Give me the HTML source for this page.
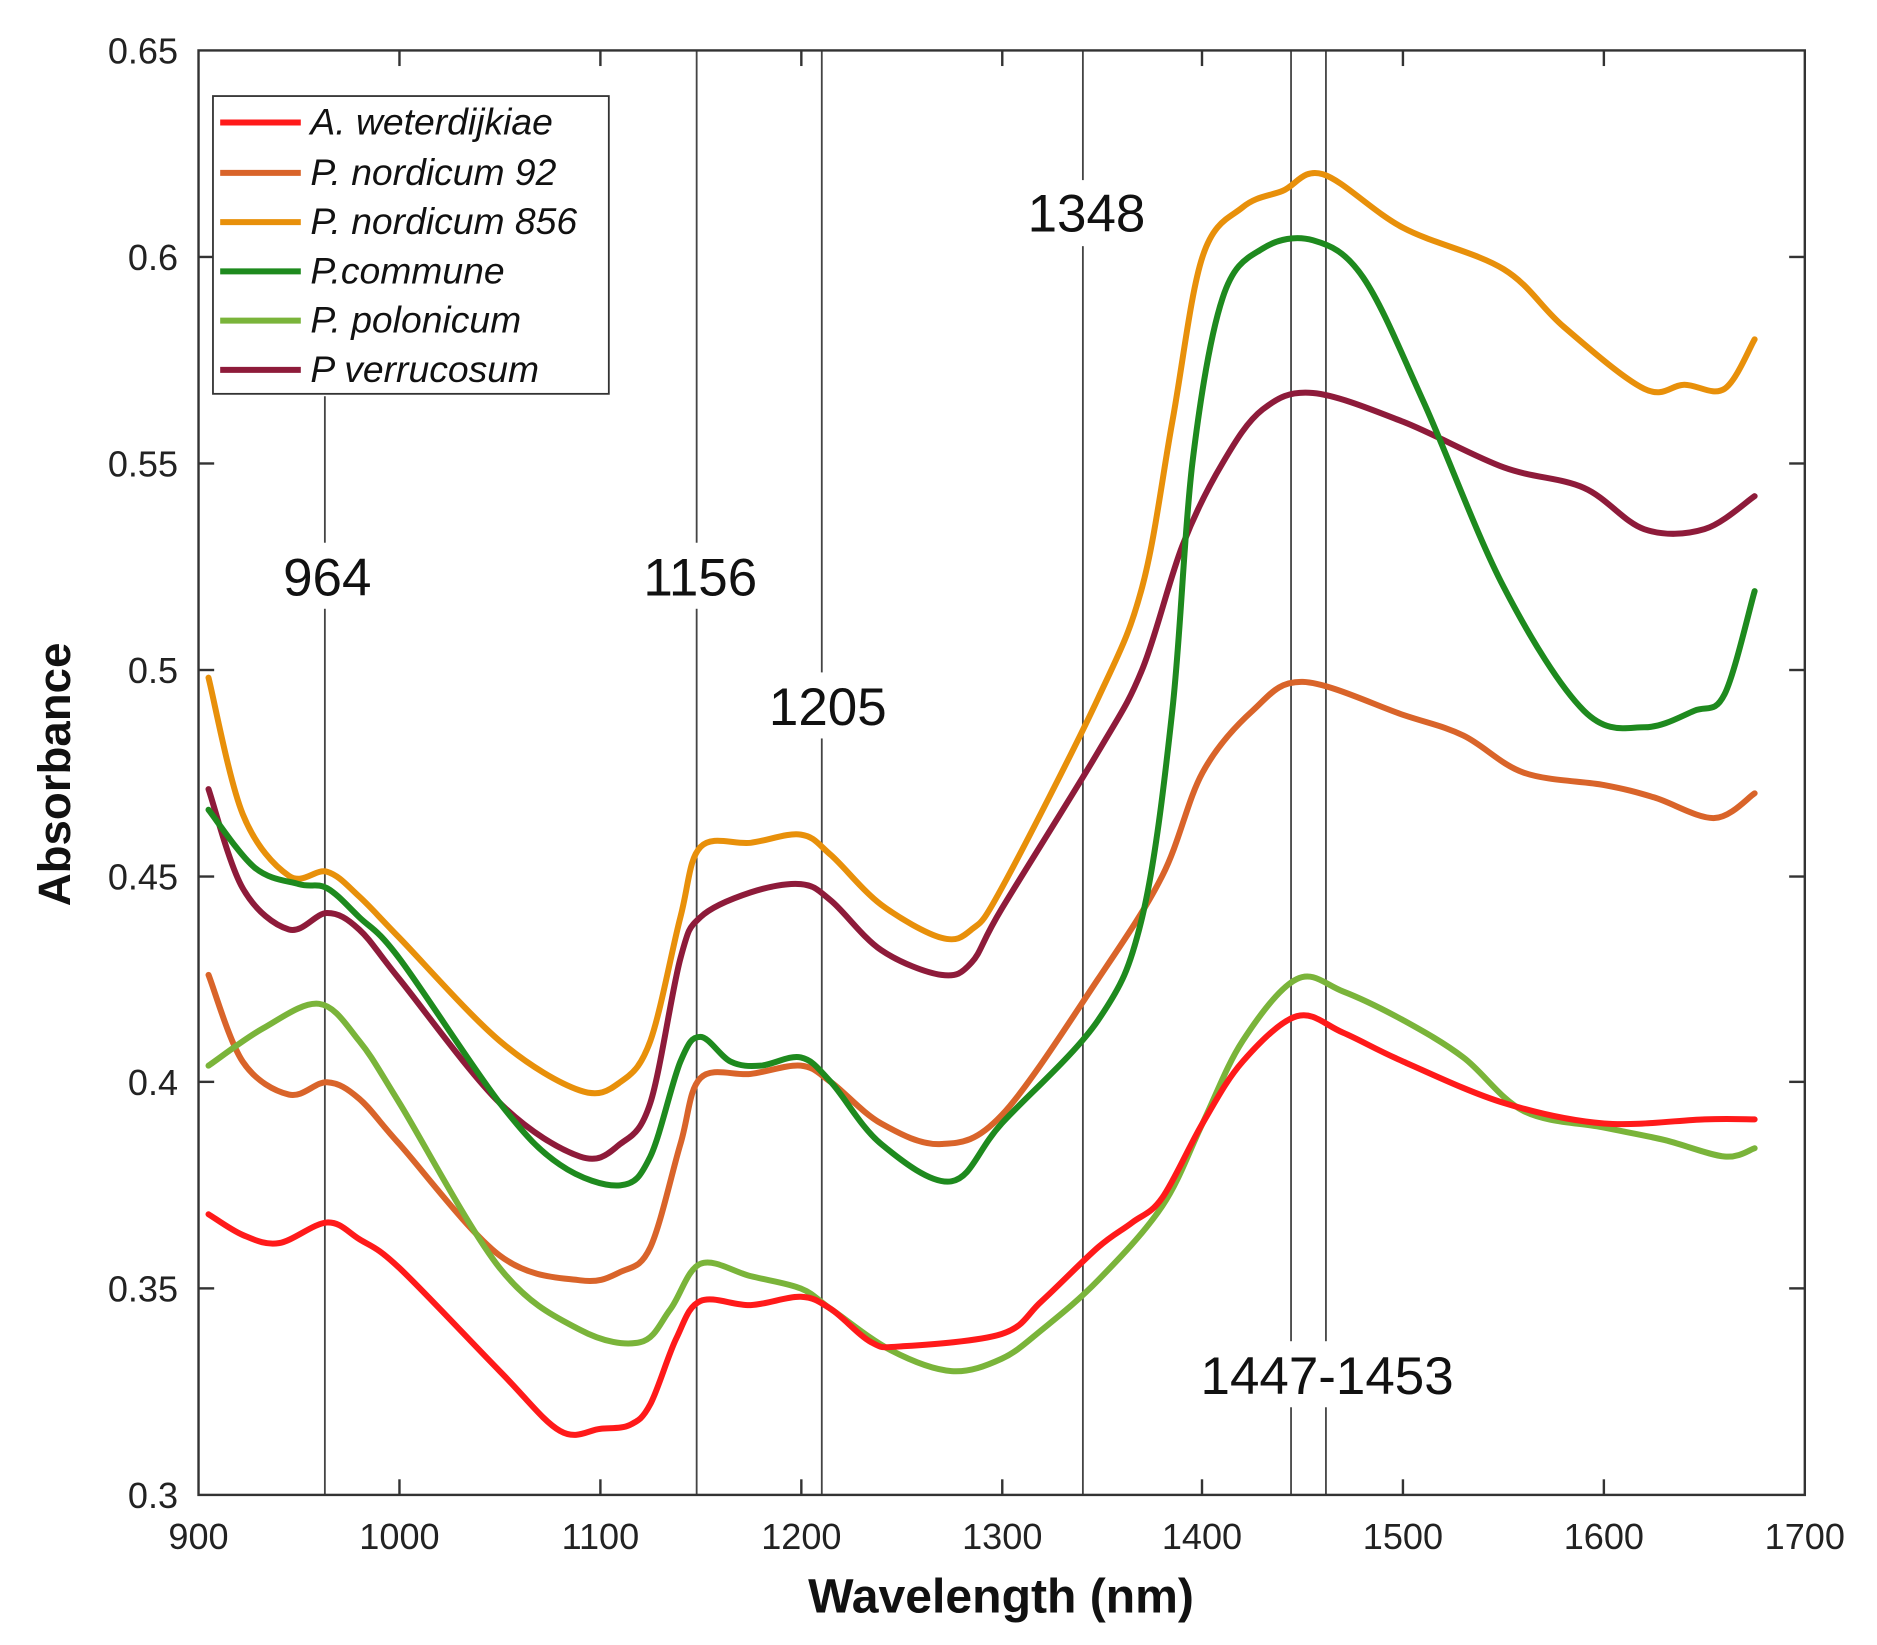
<!DOCTYPE html>
<html><head><meta charset="utf-8"><style>html,body{margin:0;padding:0;background:#fff}svg{display:block}</style></head>
<body>
<svg id="s" width="1877" height="1645" viewBox="0 0 1560 1370" preserveAspectRatio="none" xmlns="http://www.w3.org/2000/svg" font-family="Liberation Sans, sans-serif">
<rect x="0" y="0" width="1560" height="1370" fill="#fff"/>
<g stroke="#444" stroke-width="1.5" fill="none">
<line x1="270" y1="330" x2="270" y2="1245"/>
<line x1="579" y1="42" x2="579" y2="1245"/>
<line x1="683" y1="42" x2="683" y2="1245"/>
<line x1="900" y1="42" x2="900" y2="1245"/>
<line x1="1073" y1="42" x2="1073" y2="1245"/>
<line x1="1102" y1="42" x2="1102" y2="1245"/>
</g>
<g fill="#fff">
<rect x="225" y="452" width="95" height="55"/>
<rect x="525" y="452" width="115" height="55"/>
<rect x="630" y="560" width="115" height="55"/>
<rect x="845" y="150" width="115" height="55"/>
<rect x="985" y="1117" width="240" height="55"/>
</g>
<g font-size="44" fill="#111" text-anchor="middle">
<text x="272" y="496">964</text>
<text x="582" y="496">1156</text>
<text x="688" y="604">1205</text>
<text x="903" y="193">1348</text>
<text x="1103" y="1161">1447-1453</text>
</g>
<g id="curves" fill="none" stroke-width="5" stroke-linejoin="round" stroke-linecap="round"></g>
<rect x="165" y="42" width="1335" height="1203" fill="none" stroke="#333" stroke-width="2"/>
<g stroke="#333" stroke-width="2">
<line x1="165" y1="214" x2="178" y2="214"/><line x1="165" y1="386" x2="178" y2="386"/><line x1="165" y1="558" x2="178" y2="558"/><line x1="165" y1="730" x2="178" y2="730"/><line x1="165" y1="901" x2="178" y2="901"/><line x1="165" y1="1073" x2="178" y2="1073"/>
<line x1="1500" y1="214" x2="1487" y2="214"/><line x1="1500" y1="386" x2="1487" y2="386"/><line x1="1500" y1="558" x2="1487" y2="558"/><line x1="1500" y1="730" x2="1487" y2="730"/><line x1="1500" y1="901" x2="1487" y2="901"/><line x1="1500" y1="1073" x2="1487" y2="1073"/>
<line x1="332" y1="1245" x2="332" y2="1232"/><line x1="499" y1="1245" x2="499" y2="1232"/><line x1="666" y1="1245" x2="666" y2="1232"/><line x1="833" y1="1245" x2="833" y2="1232"/><line x1="999" y1="1245" x2="999" y2="1232"/><line x1="1166" y1="1245" x2="1166" y2="1232"/><line x1="1333" y1="1245" x2="1333" y2="1232"/>
<line x1="332" y1="42" x2="332" y2="55"/><line x1="499" y1="42" x2="499" y2="55"/><line x1="666" y1="42" x2="666" y2="55"/><line x1="833" y1="42" x2="833" y2="55"/><line x1="999" y1="42" x2="999" y2="55"/><line x1="1166" y1="42" x2="1166" y2="55"/><line x1="1333" y1="42" x2="1333" y2="55"/>
</g>
<g font-size="30" fill="#222" text-anchor="end">
<text x="148" y="53">0.65</text><text x="148" y="225">0.6</text><text x="148" y="397">0.55</text><text x="148" y="569">0.5</text><text x="148" y="741">0.45</text><text x="148" y="912">0.4</text><text x="148" y="1084">0.35</text><text x="148" y="1256">0.3</text>
</g>
<g font-size="30" fill="#222" text-anchor="middle">
<text x="165" y="1290">900</text><text x="332" y="1290">1000</text><text x="499" y="1290">1100</text><text x="666" y="1290">1200</text><text x="833" y="1290">1300</text><text x="999" y="1290">1400</text><text x="1166" y="1290">1500</text><text x="1333" y="1290">1600</text><text x="1500" y="1290">1700</text>
</g>
<text x="832" y="1343" font-size="40" font-weight="bold" text-anchor="middle" fill="#111">Wavelength (nm)</text>
<text transform="translate(58,645) rotate(-90)" font-size="38" font-weight="bold" text-anchor="middle" fill="#111">Absorbance</text>
<rect x="177" y="80" width="329" height="248" fill="#fff" stroke="#333" stroke-width="1.5"/>
<g stroke-width="5">
<line x1="183" y1="102" x2="250" y2="102" stroke="#ff1a1a"/>
<line x1="183" y1="144" x2="250" y2="144" stroke="#d9642a"/>
<line x1="183" y1="185" x2="250" y2="185" stroke="#e8900a"/>
<line x1="183" y1="226" x2="250" y2="226" stroke="#1e8a1e"/>
<line x1="183" y1="267" x2="250" y2="267" stroke="#7ab43a"/>
<line x1="183" y1="308" x2="250" y2="308" stroke="#8e1b3a"/>
</g>
<g font-size="31" font-style="italic" fill="#111">
<text x="258" y="112">A. weterdijkiae</text>
<text x="258" y="154">P. nordicum 92</text>
<text x="258" y="195">P. nordicum 856</text>
<text x="258" y="236">P.commune</text>
<text x="258" y="277">P. polonicum</text>
<text x="258" y="318">P verrucosum</text>
</g>
</svg>
<script>
var S=[
["#d9642a",[[905,.426],[922,.405],[945,.397],[964,.4],[980,.396],[1000,.385],[1050,.358],[1090,.352],[1110,.354],[1125,.36],[1140,.385],[1150,.401],[1175,.402],[1200,.404],[1215,.4],[1240,.39],[1270,.385],[1300,.392],[1348,.425],[1380,.45],[1400,.475],[1425,.49],[1450,.497],[1500,.489],[1530,.484],[1560,.475],[1600,.472],[1625,.469],[1655,.464],[1675,.47]]],
["#e8900a",[[905,.498],[922,.465],[945,.45],[964,.451],[980,.445],[1000,.435],[1050,.41],[1090,.398],[1110,.4],[1125,.41],[1140,.44],[1150,.457],[1175,.458],[1200,.46],[1215,.455],[1240,.443],[1270,.435],[1285,.437],[1300,.447],[1348,.493],[1370,.52],[1385,.56],[1400,.6],[1420,.612],[1440,.616],[1460,.62],[1500,.607],[1550,.597],[1580,.583],[1620,.568],[1640,.569],[1660,.568],[1675,.58]]],
["#8e1b3a",[[905,.471],[922,.447],[945,.437],[964,.441],[980,.437],[1000,.425],[1050,.395],[1090,.382],[1110,.385],[1125,.395],[1140,.43],[1150,.44],[1175,.446],[1200,.448],[1215,.444],[1240,.432],[1270,.426],[1285,.429],[1300,.442],[1348,.48],[1370,.5],[1390,.53],[1410,.55],[1430,.563],[1455,.567],[1500,.56],[1550,.549],[1590,.544],[1620,.534],[1650,.534],[1675,.542]]],
["#1e8a1e",[[905,.466],[928,.452],[950,.448],[964,.447],[980,.44],[1000,.43],[1050,.395],[1080,.38],[1110,.375],[1125,.382],[1140,.405],[1150,.411],[1165,.405],[1180,.404],[1200,.406],[1215,.4],[1240,.385],[1275,.376],[1300,.39],[1348,.415],[1370,.44],[1385,.49],[1395,.55],[1410,.59],[1430,.602],[1455,.604],[1480,.595],[1510,.565],[1550,.52],[1590,.49],[1620,.486],[1645,.49],[1660,.494],[1675,.519]]],
["#7ab43a",[[905,.404],[932,.413],[960,.419],[980,.41],[1000,.395],[1050,.355],[1090,.34],[1120,.337],[1135,.345],[1150,.356],[1175,.353],[1200,.35],[1215,.345],[1245,.335],[1275,.33],[1300,.333],[1320,.34],[1348,.352],[1380,.37],[1400,.39],[1420,.41],[1447,.425],[1470,.422],[1500,.415],[1530,.406],[1560,.393],[1600,.389],[1630,.386],[1660,.382],[1675,.384]]],
["#ff1a1a",[[905,.368],[922,.363],[940,.361],[964,.366],[980,.362],[1000,.355],[1050,.33],[1080,.3155],[1100,.316],[1115,.317],[1125,.322],[1138,.338],[1150,.347],[1175,.346],[1200,.348],[1215,.345],[1235,.337],[1250,.336],[1300,.339],[1320,.347],[1348,.36],[1365,.366],[1380,.372],[1400,.39],[1420,.405],[1447,.416],[1470,.412],[1500,.405],[1550,.395],[1600,.39],[1650,.391],[1675,.391]]]
];
var g=document.getElementById('curves');
S.forEach(function(s){
 var p=s[1].map(function(d){return [165+(d[0]-900)*1.66875,42+(0.65-d[1])*3437.14];});
 var d="M"+p[0][0].toFixed(1)+","+p[0][1].toFixed(1);
 for(var i=0;i<p.length-1;i++){
  var p0=p[i-1]||p[i],p1=p[i],p2=p[i+1],p3=p[i+2]||p2;
  var c1=[p1[0]+(p2[0]-p0[0])/6,p1[1]+(p2[1]-p0[1])/6],c2=[p2[0]-(p3[0]-p1[0])/6,p2[1]-(p3[1]-p1[1])/6];
  d+=" C"+c1[0].toFixed(1)+","+c1[1].toFixed(1)+" "+c2[0].toFixed(1)+","+c2[1].toFixed(1)+" "+p2[0].toFixed(1)+","+p2[1].toFixed(1);
 }
 var e=document.createElementNS("http://www.w3.org/2000/svg","path");
 e.setAttribute("d",d);e.setAttribute("stroke",s[0]);g.appendChild(e);
});
</script>
</body></html>
